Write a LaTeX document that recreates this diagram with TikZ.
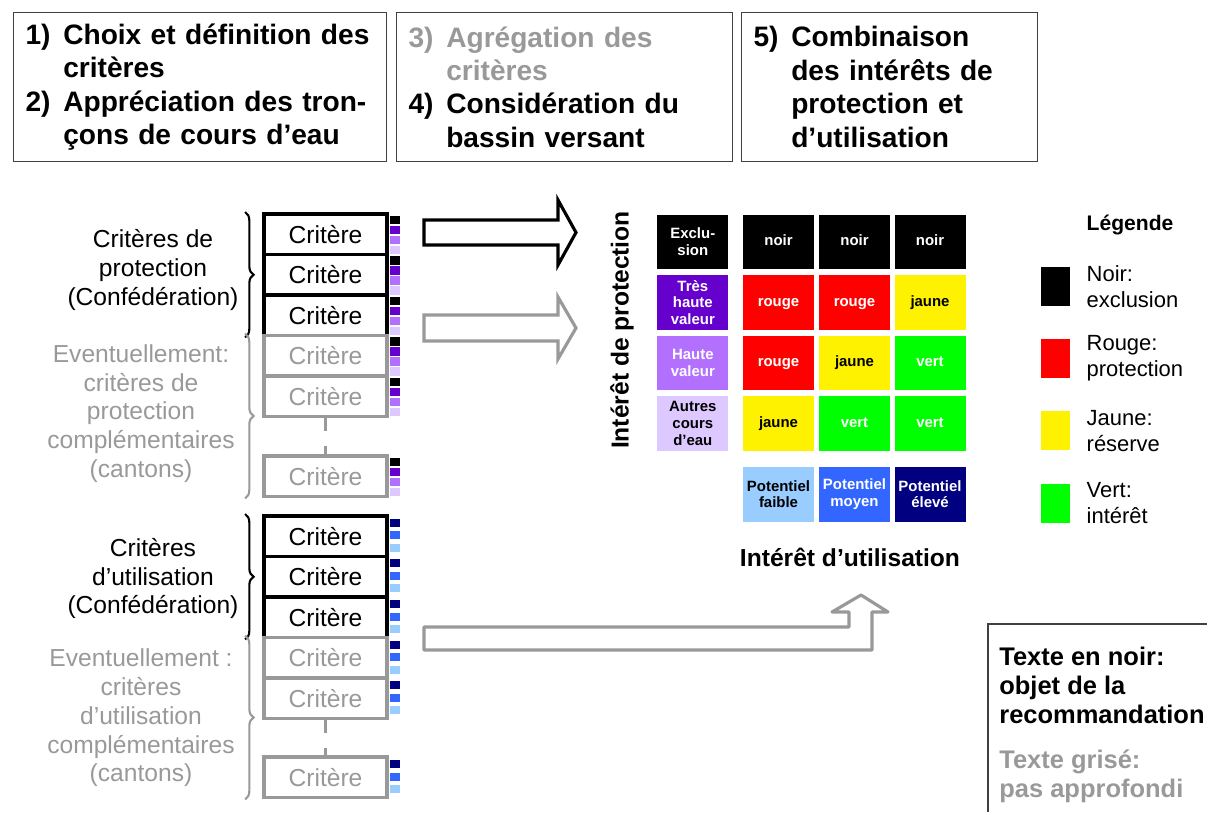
\documentclass[tikz,border=0pt]{standalone}
\usepackage{fontspec}
\setmainfont{Liberation Sans}
\usetikzlibrary{positioning, decorations.pathreplacing}
\definecolor{txtgray}{HTML}{999999}
\definecolor{valTH}{HTML}{6600CC}
\definecolor{valH}{HTML}{B370FF}
\definecolor{valA}{HTML}{DDC8FF}
\definecolor{potF}{HTML}{99CCFF}
\definecolor{potM}{HTML}{3366FF}
\definecolor{potE}{HTML}{000080}
\newcommand*{\stepnum}[1]{\makebox[21.5pt][l]{#1}}
\newcommand*{\stepind}{\hspace*{21.5pt}}

\begin{document}
\begin{tikzpicture}[x=0.02cm, y=-0.02cm,
    stage/.style={draw=black!75, line width=0.6pt, anchor=north west, minimum height=2.98cm,
      inner xsep=0.24cm, inner ysep=0pt, align=left, font=\fontsize{16}{19}\selectfont\bfseries},
    crit/.style={draw=black, line width=2.2pt, minimum width=2.46cm, minimum height=0.81cm,
      inner sep=0pt, font=\fontsize{14}{16}\selectfont},
    critgray/.style={crit, draw=txtgray, text=txtgray},
    side/.style={align=center, font=\fontsize{14}{16.4}\selectfont},
    bracedeco/.style={decorate, decoration={brace, mirror, amplitude=0.17cm}, line width=1.2pt},
    dashline/.style={draw=txtgray, line width=1.8pt, dash pattern=on 7.4pt off 8.5pt},
    arrowblack/.style={draw=black, line width=1.8pt, line join=miter, fill=white},
    arrowgray/.style={draw=txtgray, line width=1.8pt, line join=miter, fill=white},
    cell/.style={minimum width=1.42cm, minimum height=1.1cm, inner sep=0pt, align=center,
      font=\fontsize{8.5}{9.5}\selectfont\bfseries},
    cellone/.style={cell, text height=6.3pt, text depth=1.9pt},
    noir/.style={fill=black, text=white},
    rouge/.style={fill=red, text=white},
    jaune/.style={fill=yellow, text=black},
    vert/.style={fill=green, text=white},
    legbox/.style={minimum width=0.58cm, minimum height=0.78cm, inner sep=0pt},
    legtext/.style={align=left, inner sep=0pt, font=\fontsize{12.5}{14.7}\selectfont},
    axislabel/.style={font=\fontsize{14}{16}\selectfont\bfseries}]
  \useasboundingbox (0,0) rectangle (1207,820);

  % steps
  \node[stage, text width=6.98cm] (s12) at (13,12)
    {\stepnum{1)}Choix et définition des\\\stepind critères\\
     \stepnum{2)}Appréciation des tron-\\\stepind çons de cours d’eau};
  \node[stage, text width=6.24cm] (s34) at (396,12)
    {{\color{txtgray}\stepnum{3)}Agrégation des}\\{\color{txtgray}\stepind critères}\\
     \stepnum{4)}Considération du\\\stepind bassin versant};
  \node[stage, text width=5.44cm] (s5) at (741,12)
    {\stepnum{5)}Combinaison\\\stepind des intérêts de\\\stepind protection et\\\stepind d’utilisation};

  % criteria, protection
  \foreach \y [count=\i] in {234.25,274.75,315.25}
    \node[crit] (pa\i) at (325.5,\y) {Critère};
  \node[critgray] (pc1) at (325.5,355.75) {Critère};
  \node[critgray] (pc2) at (325.5,396.25) {Critère};
  \node[critgray] (pcn) at (325.5,476.25) {Critère};
  \draw[dashline] (pc2.south) -- (pcn.north);
  \foreach \t in {214,254.5,295,335.5,376,456}
    \foreach \c [count=\i from 0] in {black,valTH,valH,valA}
      \fill[\c] (390,\t+2+10*\i) rectangle ++(10,8.5);
  \draw[bracedeco] ([xshift=-0.34cm]pa3.south west) -- ([xshift=-0.34cm]pa1.north west);
  \draw[bracedeco, draw=txtgray] ([xshift=-0.34cm]pcn.south west) -- ([xshift=-0.34cm]pc1.north west);
  \node[side] (pt) at (153,270) {Critères de\\protection\\(Confédération)};
  \node[side, text=txtgray] (pct) at (141,413.5)
    {Eventuellement:\\critères de\\protection\\complémentaires\\(cantons)};

  % criteria, use
  \foreach \y [count=\i] in {536.25,576.75,617.25}
    \node[crit] (ua\i) at (325.5,\y) {Critère};
  \node[critgray] (uc1) at (325.5,657.75) {Critère};
  \node[critgray] (uc2) at (325.5,698.25) {Critère};
  \node[critgray] (ucn) at (325.5,777.25) {Critère};
  \draw[dashline] (uc2.south) -- (ucn.north);
  \foreach \t in {516,556.5,597,637.5,678,757}
    \foreach \c [count=\i from 0] in {potE,potM,potF}
      \fill[\c] (390,\t+3+12.5*\i) rectangle ++(10,8);
  \draw[bracedeco] ([xshift=-0.34cm]ua3.south west) -- ([xshift=-0.34cm]ua1.north west);
  \draw[bracedeco, draw=txtgray] ([xshift=-0.34cm]ucn.south west) -- ([xshift=-0.34cm]uc1.north west);
  \node[side] (ut) at (153,578.5) {Critères\\d’utilisation\\(Confédération)};
  \node[side, text=txtgray] (uct) at (141,718)
    {Eventuellement :\\critères\\d’utilisation\\complémentaires\\(cantons)};

  % block arrows
  \draw[arrowblack] (424,220) -- (558,220) -- (558,200) -- (576,232.5) -- (558,265)
    -- (558,245) -- (424,245) -- cycle;
  \draw[arrowgray] (424,315) -- (558,315) -- (558,297) -- (576,328) -- (558,359)
    -- (558,341) -- (424,341) -- cycle;
  \draw[arrowgray, line join=round] (424,627) -- (849,627) -- (849,612) -- (832,612)
    -- (861,595) -- (888,612) -- (872,612) -- (872,650) -- (424,650) -- cycle;

  % matrix
  \foreach \a/\b/\c [count=\r] in {noir/noir/noir, rouge/rouge/jaune, rouge/jaune/vert, jaune/vert/vert} {
    \node[cellone,\a] (m\r1) at (778.5,{181.5+60.5*\r}) {\a};
    \node[cellone,\b] (m\r2) at (854.5,{181.5+60.5*\r}) {\b};
    \node[cellone,\c] (m\r3) at (930,{181.5+60.5*\r}) {\c};
  }
  \node[cell, noir, left=0.28cm of m11] (l1) {Exclu-\\sion};
  \node[cell, fill=valTH, text=white, left=0.28cm of m21] (l2) {Très\\haute\\valeur};
  \node[cell, fill=valH, text=white, left=0.28cm of m31] (l3) {Haute\\valeur};
  \node[cell, fill=valA, left=0.28cm of m41] (l4) {Autres\\cours\\d’eau};
  \node[cell, fill=potF, below=0.3cm of m41] (b1) {Potentiel\\faible};
  \node[cell, fill=potM, text=white, below=0.3cm of m42] (b2) {Potentiel\\moyen};
  \node[cell, fill=potE, text=white, below=0.3cm of m43] (b3) {Potentiel\\élevé};
  \node[axislabel, rotate=90] (yl) at (622,330) {Intérêt de protection};
  \node[axislabel] (xl) at (850,557) {Intérêt d’utilisation};

  % legend
  \node[font=\fontsize{12}{14}\selectfont\bfseries] (leg) at (1130,225) {Légende};
  \foreach \c/\txt [count=\i] in {black/{Noir:\\exclusion}, red/{Rouge:\\protection},
      yellow/{Jaune:\\réserve}, green/{Vert:\\intérêt}} {
    \node[legbox, fill=\c] (lg\i) at (1055.5,{214+72.3*\i}) {};
    \node[legtext, right=0.32cm of lg\i] (lt\i) {\txt};
  }

  % note
  \node[align=left, inner sep=0pt, anchor=west, font=\fontsize{14.5}{16.4}\selectfont\bfseries]
    (note) at (999,725) {Texte en noir:\\objet de la\\recommandation\\[9.6pt]
    \color{txtgray}Texte grisé:\\\color{txtgray}pas approfondi};
  \draw[draw=black!75, line width=0.6pt] (1207,624) -- (988,624) -- (988,812);
\end{tikzpicture}
\end{document}
